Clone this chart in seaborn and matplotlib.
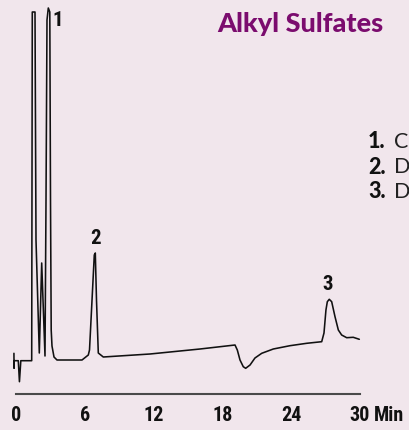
import matplotlib
matplotlib.use("Agg")
import matplotlib.pyplot as plt
import seaborn as sns
import pandas as pd

# Chromatogram trace: retention time (min) and detector response (arbitrary units)
time_min = [-0.18, -0.17, -0.16, 0.20, 0.30, 0.42, 1.369, 1.42, 1.657, 1.744, 2.032,
            2.241, 2.529, 2.617, 2.703, 2.817, 2.948, 3.009, 3.070, 3.139, 3.314, 3.575,
            4.70, 5.756, 6.305, 6.41, 6.828, 6.916, 7.02, 7.177, 7.613, 11.686, 14.30,
            16.05, 19.10, 19.30, 19.535, 19.82, 20.03, 20.41, 20.84, 21.43, 22.44, 23.89,
            25.35, 26.66, 26.86, 27.03, 27.15, 27.32, 27.53, 27.82, 28.11, 28.40, 28.84,
            29.41, 29.94]
response = [6.7, -8.3, -0.7, -0.7, -21.7, -0.7, -0.7, 348, 348, 120, 7,
            97, 4, 160, 340, 352, 348, 160, 30, 14, 3, 0,
            0, 0, 5, 10, 105, 107, 60, 7, 3, 6, 9,
            11, 15, 10, 0, -6.7, -8.3, -5, 2, 6.7, 11, 14.3,
            16.7, 18.3, 27, 50, 58.3, 60.7, 58.3, 43.3, 30, 25, 22.3,
            22.7, 20.7]

# Peak annotations
peak_ids = ["1", "2", "3"]
peak_times = [3.65, 6.90, 27.20]
peak_label_heights = [340, 121.5, 75]

# Compound list
legend_nums = ["1.", "2.", "3."]
legend_names = ["C", "D", "D"]

tick_values = [0, 6, 12, 18, 24, 30]
tick_labels = ["0", "6", "12", "18", "24", "30"]

W, H = 409, 430
BG = "#F1E6EC"
PURPLE = "#7B0C6E"
NARROW = ["Roboto Condensed", "Liberation Sans Narrow", "Roboto", "DejaVu Sans"]
GEO = ["Lato", "DejaVu Sans"]

sns.set_theme(style="white")
plt.rcParams["font.family"] = ["DejaVu Sans"]

fig = plt.figure(figsize=(W / 100, H / 100), dpi=100, facecolor=BG)
ax = fig.add_axes([0, 0, 1, 1])
ax.set_facecolor(BG)

df = pd.DataFrame({"time": time_min, "response": response})
sns.lineplot(data=df, x="time", y="response", sort=False, estimator=None,
             color="#111111", linewidth=1.15, ax=ax)

px_per_min = 344 / 30.0
ax.set_xlim(-16 / px_per_min, (W - 16) / px_per_min)
ax.set_ylim(-70, 360)
ax.set_xlabel("")
ax.set_ylabel("")

for s in ["top", "left", "right"]:
    ax.spines[s].set_visible(False)
ax.spines["bottom"].set_position(("data", -34))
ax.spines["bottom"].set_bounds(0, 30)
ax.spines["bottom"].set_color("#4a4a4a")
ax.spines["bottom"].set_linewidth(1.5)
ax.set_yticks([])
ax.set_xticks(tick_values)
ax.set_xticklabels(tick_labels)
ax.tick_params(axis="x", direction="out", length=4.5, width=1.1, color="#4a4a4a",
               pad=4, labelsize=14.5, labelcolor="#111111")
for lab in ax.get_xticklabels():
    lab.set_fontfamily(NARROW)
    lab.set_fontweight("bold")

# "Min" unit placed after the last tick label, on the same baseline
fig.canvas.draw()
bb = ax.get_xticklabels()[-1].get_window_extent()
fig.text((bb.x1 + 4) / W, bb.y0 / H, "Min", fontsize=14.5, fontweight="bold",
         family=NARROW, color="#111111", ha="left", va="bottom")

# Peak numbers
for pid, t, h in zip(peak_ids, peak_times, peak_label_heights):
    ax.text(t, h, pid, fontsize=15, fontweight="bold", family=NARROW,
            color="#111111", ha="center", va="center")

# Title
fig.text(300 / W, 1 - 24 / H, "Alkyl Sulfates", fontsize=19.5, fontweight="black",
         family=GEO, color=PURPLE, ha="center", va="center")

# Compound list
row_y = [142, 167, 192]
for num, name, y in zip(legend_nums, legend_names, row_y):
    fig.text(368 / W, 1 - y / H, num, fontsize=15.5, fontweight="black",
             family=GEO, color="#111111", ha="left", va="center")
    fig.text(394 / W, 1 - y / H, name, fontsize=15.5, fontweight="normal",
             family=GEO, color="#222222", ha="left", va="center")

fig.savefig("out.png", dpi=100, facecolor=BG)
